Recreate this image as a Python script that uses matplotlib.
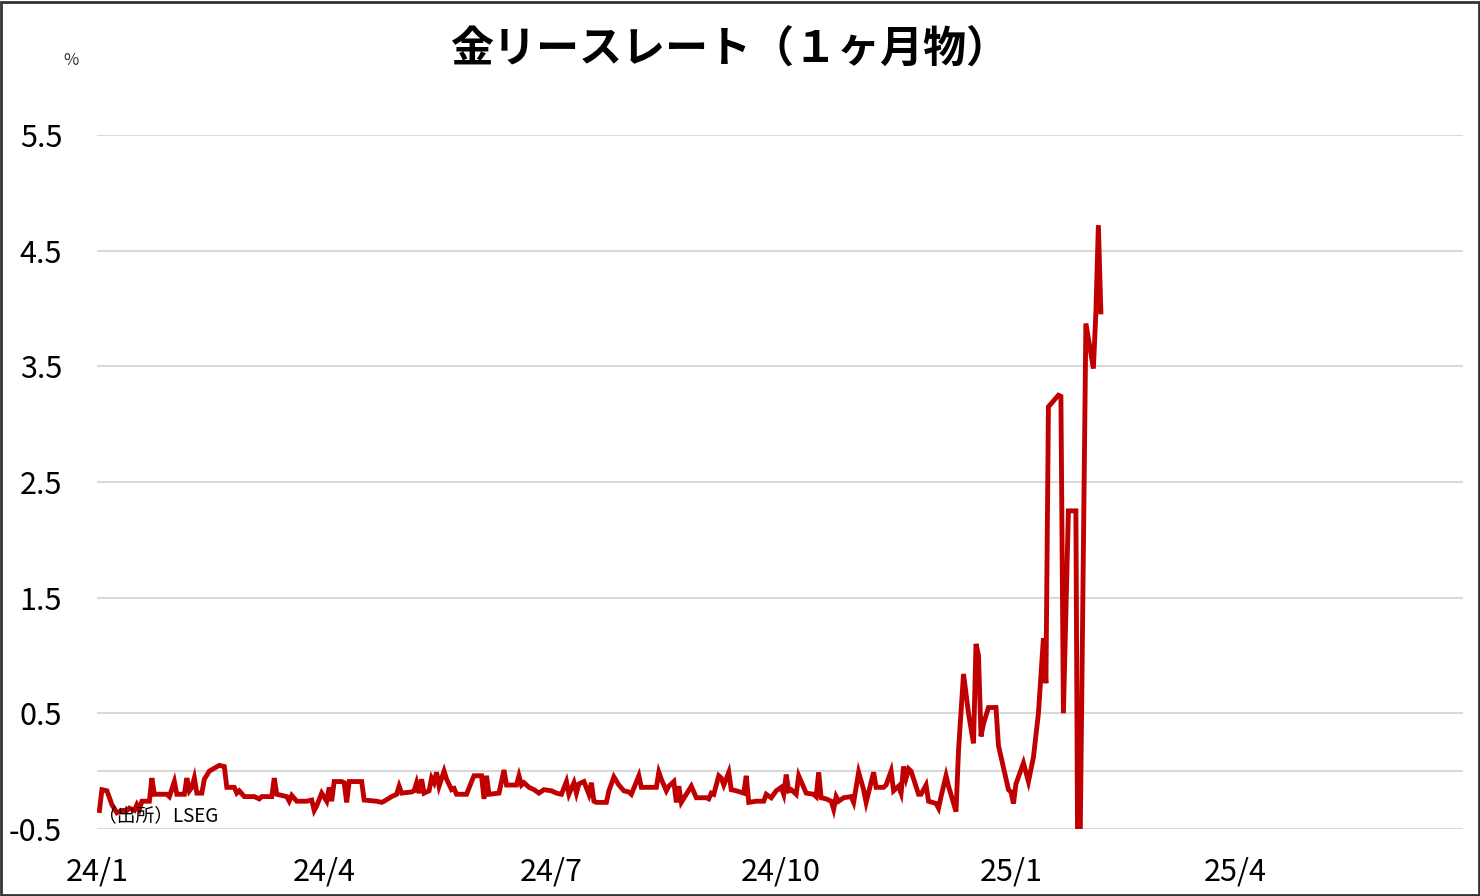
import pandas as pd
import matplotlib
matplotlib.use('Agg')
import matplotlib.pyplot as plt
from matplotlib.patches import Rectangle

plt.rcParams['font.family'] = ['Noto Sans CJK JP', 'DejaVu Sans']

# 金リースレート（1ヶ月物）, %
dates = [
    '2024-01-02', '2024-01-03', '2024-01-05', '2024-01-07', '2024-01-09', '2024-01-11',
    '2024-01-13', '2024-01-14', '2024-01-16', '2024-01-17', '2024-01-18', '2024-01-19',
    '2024-01-22', '2024-01-23', '2024-01-24', '2024-01-29', '2024-01-30', '2024-02-01',
    '2024-02-02', '2024-02-05', '2024-02-06', '2024-02-07', '2024-02-08', '2024-02-09',
    '2024-02-10', '2024-02-12', '2024-02-13', '2024-02-15', '2024-02-19', '2024-02-21',
    '2024-02-22', '2024-02-25', '2024-02-26', '2024-02-27', '2024-02-29', '2024-03-04',
    '2024-03-06', '2024-03-07', '2024-03-11', '2024-03-12', '2024-03-13', '2024-03-17',
    '2024-03-18', '2024-03-19', '2024-03-21', '2024-03-25', '2024-03-27', '2024-03-28',
    '2024-03-29', '2024-03-31', '2024-04-02', '2024-04-03', '2024-04-04', '2024-04-05',
    '2024-04-08', '2024-04-09', '2024-04-10', '2024-04-11', '2024-04-16', '2024-04-17',
    '2024-04-22', '2024-04-24', '2024-04-25', '2024-04-28', '2024-04-30', '2024-05-01',
    '2024-05-02', '2024-05-06', '2024-05-07', '2024-05-08', '2024-05-09', '2024-05-10',
    '2024-05-11', '2024-05-13', '2024-05-14', '2024-05-15', '2024-05-16', '2024-05-17',
    '2024-05-19', '2024-05-20', '2024-05-22', '2024-05-23', '2024-05-24', '2024-05-28',
    '2024-05-30', '2024-05-31', '2024-06-03', '2024-06-04', '2024-06-05', '2024-06-06',
    '2024-06-10', '2024-06-12', '2024-06-13', '2024-06-17', '2024-06-18', '2024-06-19',
    '2024-06-20', '2024-06-22', '2024-06-24', '2024-06-26', '2024-06-28', '2024-07-01',
    '2024-07-03', '2024-07-05', '2024-07-07', '2024-07-08', '2024-07-10', '2024-07-11',
    '2024-07-12', '2024-07-14', '2024-07-16', '2024-07-17', '2024-07-18', '2024-07-19',
    '2024-07-23', '2024-07-24', '2024-07-26', '2024-07-28', '2024-07-30', '2024-08-01',
    '2024-08-02', '2024-08-05', '2024-08-06', '2024-08-08', '2024-08-09', '2024-08-12',
    '2024-08-13', '2024-08-14', '2024-08-16', '2024-08-17', '2024-08-19', '2024-08-20',
    '2024-08-21', '2024-08-22', '2024-08-24', '2024-08-26', '2024-08-28', '2024-09-01',
    '2024-09-02', '2024-09-03', '2024-09-04', '2024-09-06', '2024-09-07', '2024-09-08',
    '2024-09-10', '2024-09-11', '2024-09-13', '2024-09-16', '2024-09-17', '2024-09-18',
    '2024-09-21', '2024-09-24', '2024-09-25', '2024-09-27', '2024-09-29', '2024-10-01',
    '2024-10-02', '2024-10-03', '2024-10-04', '2024-10-05', '2024-10-07', '2024-10-08',
    '2024-10-10', '2024-10-11', '2024-10-14', '2024-10-15', '2024-10-16', '2024-10-17',
    '2024-10-19', '2024-10-21', '2024-10-22', '2024-10-23', '2024-10-24', '2024-10-26',
    '2024-10-29', '2024-10-30', '2024-11-01', '2024-11-03', '2024-11-04', '2024-11-07',
    '2024-11-08', '2024-11-11', '2024-11-12', '2024-11-14', '2024-11-15', '2024-11-17',
    '2024-11-18', '2024-11-19', '2024-11-20', '2024-11-21', '2024-11-22', '2024-11-25',
    '2024-11-26', '2024-11-28', '2024-11-29', '2024-12-02', '2024-12-03', '2024-12-04',
    '2024-12-06', '2024-12-07', '2024-12-10', '2024-12-11', '2024-12-13', '2024-12-15',
    '2024-12-17', '2024-12-18', '2024-12-19', '2024-12-20', '2024-12-21', '2024-12-23',
    '2024-12-26', '2024-12-27', '2024-12-31', '2025-01-01', '2025-01-02', '2025-01-03',
    '2025-01-06', '2025-01-08', '2025-01-10', '2025-01-12', '2025-01-14', '2025-01-15',
    '2025-01-16', '2025-01-20', '2025-01-21', '2025-01-22', '2025-01-24', '2025-01-27',
    '2025-01-28', '2025-01-31', '2025-02-03', '2025-02-04', '2025-02-05', '2025-02-06',
]
rates = [
    -0.34, -0.16, -0.17, -0.29, -0.36, -0.34,
    -0.34, -0.32, -0.34, -0.29, -0.33, -0.26,
    -0.26, -0.06, -0.20, -0.20, -0.22, -0.09,
    -0.20, -0.20, -0.06, -0.17, -0.14, -0.06,
    -0.19, -0.19, -0.07, 0.00, 0.05, 0.04,
    -0.14, -0.14, -0.19, -0.17, -0.22, -0.22,
    -0.24, -0.22, -0.22, -0.06, -0.20, -0.22,
    -0.26, -0.21, -0.26, -0.26, -0.25, -0.34,
    -0.30, -0.19, -0.26, -0.14, -0.26, -0.09,
    -0.09, -0.10, -0.27, -0.09, -0.09, -0.25,
    -0.26, -0.27, -0.26, -0.22, -0.20, -0.13,
    -0.19, -0.18, -0.17, -0.10, -0.19, -0.07,
    -0.19, -0.17, -0.06, -0.10, -0.01, -0.13,
    0.00, -0.07, -0.16, -0.15, -0.20, -0.20,
    -0.09, -0.04, -0.04, -0.24, -0.04, -0.20,
    -0.19, 0.01, -0.12, -0.12, -0.04, -0.12,
    -0.10, -0.14, -0.16, -0.19, -0.16, -0.17,
    -0.19, -0.20, -0.09, -0.20, -0.10, -0.19,
    -0.11, -0.09, -0.20, -0.10, -0.26, -0.27,
    -0.27, -0.17, -0.05, -0.12, -0.17, -0.18,
    -0.20, -0.04, -0.14, -0.14, -0.14, -0.14,
    -0.01, -0.07, -0.17, -0.13, -0.09, -0.27,
    -0.13, -0.27, -0.20, -0.13, -0.23, -0.23,
    -0.24, -0.19, -0.20, -0.04, -0.06, -0.12,
    -0.01, -0.16, -0.17, -0.19, -0.04, -0.27,
    -0.26, -0.26, -0.20, -0.23, -0.17, -0.14,
    -0.20, -0.03, -0.17, -0.16, -0.20, -0.04,
    -0.14, -0.19, -0.20, -0.22, -0.01, -0.23,
    -0.24, -0.26, -0.33, -0.22, -0.26, -0.23,
    -0.22, -0.27, -0.01, -0.16, -0.27, -0.01,
    -0.14, -0.14, -0.12, 0.00, -0.17, -0.13,
    -0.19, 0.04, -0.06, 0.02, 0.00, -0.20,
    -0.20, -0.12, -0.26, -0.28, -0.32, -0.22,
    -0.04, -0.13, -0.35, 0.18, 0.84, 0.50,
    0.24, 1.10, 1.00, 0.30, 0.41, 0.55,
    0.55, 0.22, -0.16, -0.18, -0.28, -0.11,
    0.07, -0.09, 0.12, 0.50, 1.15, 0.76,
    3.15, 3.25, 3.24, 0.50, 2.25, 2.25,
    -2.00, 3.87, 3.48, 3.96, 4.72, 3.97,
]

y_ticks = [-0.5, 0.5, 1.5, 2.5, 3.5, 4.5, 5.5]
x_tick_dates = ['2024-01-01', '2024-04-01', '2024-07-01', '2024-10-01', '2025-01-01', '2025-04-01']
x_tick_labels = ['24/1', '24/4', '24/7', '24/10', '25/1', '25/4']

df = pd.DataFrame({'date': pd.to_datetime(dates), 'rate': rates})

fig = plt.figure(figsize=(14.8, 8.96), dpi=100)
ax = fig.add_axes([0.0655, 0.0748, 0.923, 0.7746])

grid_color = '#d9d9d9'
for y in y_ticks:
    ax.axhline(y, color=grid_color, lw=1.5, zorder=1)
ax.axhline(0, color=grid_color, lw=1.5, zorder=1)

ax.plot(df['date'], df['rate'], color='#c00000', lw=3.5, solid_joinstyle='miter', zorder=3)

ax.set_ylim(-0.5, 5.5)
ax.set_xlim(pd.Timestamp('2024-01-01'), pd.Timestamp('2025-07-01'))
ax.set_yticks(y_ticks)
ax.set_yticklabels([f'{v:.1f}' for v in y_ticks])
ax.set_xticks(pd.to_datetime(x_tick_dates))
ax.set_xticklabels(x_tick_labels)
ax.tick_params(axis='y', length=0, pad=25, labelsize=22)
ax.tick_params(axis='x', length=0, pad=20, labelsize=22)
for s in ax.spines.values():
    s.set_visible(False)

fig.text(0.493, 0.946, '金リースレート（１ヶ月物）', ha='center', va='center',
         fontsize=31, fontweight='bold')
fig.text(0.048, 0.933, '%', ha='center', va='center', fontsize=12, color='#333333')
fig.text(0.066, 0.090, '（出所）LSEG', ha='left', va='center', fontsize=13.5)

fig.patches.append(Rectangle((0.001, 0.001), 0.998, 0.997, transform=fig.transFigure,
                             fill=False, edgecolor='#333333', lw=2))

fig.savefig('out.png', dpi=100)
